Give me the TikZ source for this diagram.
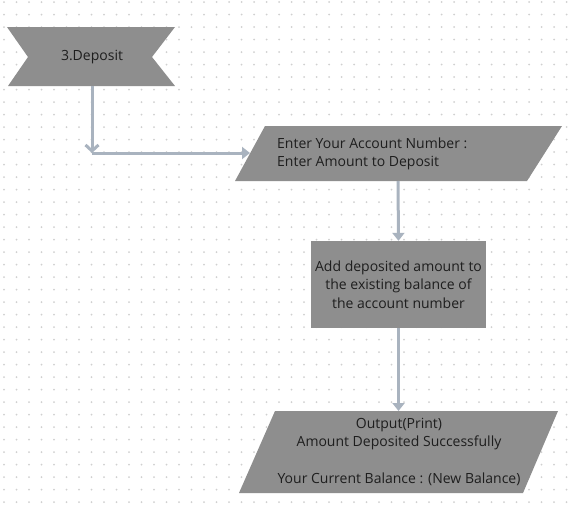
\documentclass[tikz,border=0pt]{standalone}
\usepackage{fontspec}
\setmainfont{Open Sans}
\usetikzlibrary{arrows.meta}
\definecolor{boxgray}{HTML}{8E8E8E}
\definecolor{linecol}{HTML}{A9B3BF}
\definecolor{dotcol}{HTML}{D0D0D0}
\definecolor{txt}{HTML}{1E1E1E}
\begin{document}
\begin{tikzpicture}[x=1pt,y=-1pt,
  shapefill/.style={fill=boxgray,draw=none},
  lbl/.style={text=txt,font=\fontsize{14}{18.5}\selectfont,align=center,inner sep=0pt},
  conn/.style={draw=linecol,line width=3pt,-{Triangle[length=8pt,width=12pt]}},
  cornerarrow/.style={draw=linecol,line width=3pt,-{Straight Barb[length=6pt,width=13pt,line width=3pt]}}
]
\useasboundingbox (0,0) rectangle (576,509);
\fill[white] (0,0) rectangle (576,509);
\foreach \i in {0,...,46} {\foreach \j in {0,...,40} {\fill[dotcol] (4+12.5*\i,2+12.5*\j) circle (1.0);}}

% banner
\fill[shapefill] (7,27) -- (175,27) -- (152,57) -- (175,86) -- (8,86) -- (28,57) -- cycle;
\node[lbl] (dep) at (92,57) {3.Deposit};
\coordinate (depb) at (92,86);
\coordinate (corner) at (92,153);

% input parallelogram
\fill[shapefill] (265,126) -- (562,126) -- (527,181) -- (235,181) -- cycle;
\node[lbl,align=left,anchor=west] (inp) at (277,154) {Enter Your Account Number :\\Enter Amount to Deposit};
\coordinate (inL) at (250,153);
\coordinate (inB) at (398,181);

% process
\node[shapefill,lbl,minimum width=175pt,minimum height=87pt] (proc) at (398.5,284.5)
  {Add deposited amount to\\the existing balance of\\the account number};

% output parallelogram
\fill[shapefill] (275,411) -- (558,411) -- (523,493) -- (239,493) -- cycle;
\node[lbl] (outp) at (399,452) {Output(Print)\\Amount Deposited Successfully\\[18.5pt]Your Current Balance : (New Balance)};
\coordinate (outT) at (398.5,411);

% connectors
\draw[cornerarrow] (depb) -- (corner);
\draw[conn] (corner) -- (inL);
\draw[conn] (inB) -- (proc.north);
\draw[conn] (proc.south) -- (outT);
\end{tikzpicture}
\end{document}
